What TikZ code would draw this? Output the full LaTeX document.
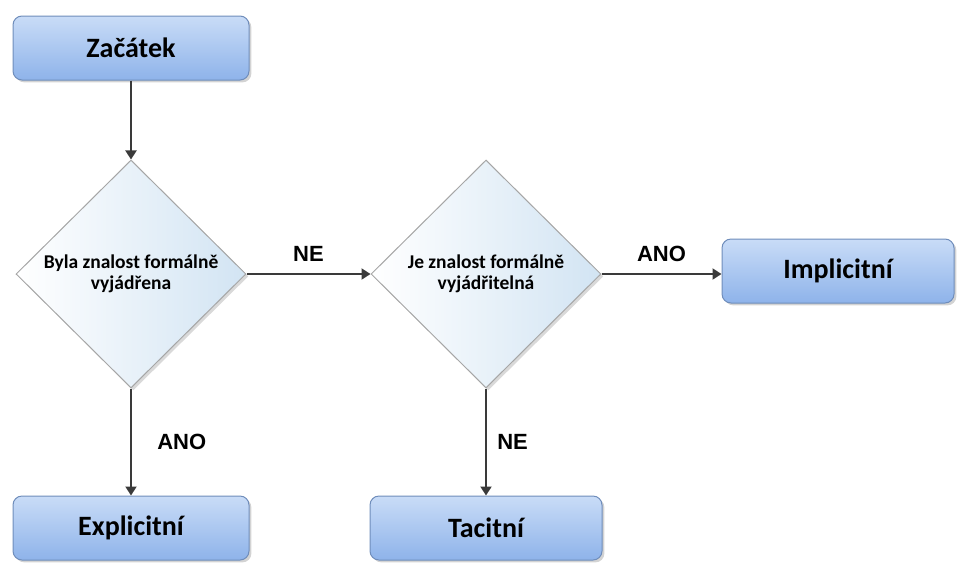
\documentclass[tikz,border=0pt]{standalone}
\usepackage{fontspec}
\setmainfont{Carlito}
\newfontfamily\labelfont{Liberation Sans}
\usetikzlibrary{shapes.geometric,shadows,arrows.meta}
\definecolor{boxtop}{HTML}{C9DCF7}
\definecolor{boxbot}{HTML}{8EB3EA}
\definecolor{boxline}{HTML}{6F8DBB}
\definecolor{diaright}{HTML}{D2E4F3}
\definecolor{arrowgray}{HTML}{3A3A3A}
\tikzset{
  endbox/.style={draw=boxline, line width=1pt, rounded corners=9pt,
    top color=boxtop, bottom color=boxbot, drop shadow={opacity=0.35},
    minimum height=64pt, font=\bfseries\fontsize{28}{30}\selectfont},
  question/.style={diamond, draw=gray!70, line width=1pt, aspect=1,
    left color=white, right color=diaright, drop shadow={opacity=0.3},
    minimum width=230pt, minimum height=228pt, inner sep=0pt, align=center,
    font=\bfseries\fontsize{19.5}{21}\selectfont},
  flow/.style={-{Triangle[length=9pt,width=11pt]}, draw=arrowgray, line width=2pt},
  answer/.style={font=\labelfont\bfseries\fontsize{22}{24}\selectfont}
}
\begin{document}
\begin{tikzpicture}[x=1pt,y=-1pt]
  \useasboundingbox (0,0) rectangle (957,563);
  % boxes
  \node[endbox, minimum width=236pt] (start) at (131,48) {Začátek};
  \node[question] (q1) at (131,274) {Byla znalost formálně\\vyjádřena};
  \node[question] (q2) at (486,274) {Je znalost formálně\\vyjádřitelná};
  \node[endbox, minimum width=232pt] (impl) at (838,271) {Implicitní};
  \node[endbox, minimum width=236pt] (expl) at (131,528) {Explicitní};
  \node[endbox, minimum width=232pt] (tac) at (486,528) {Tacitní};
  % arrows
  \draw[flow] (start) -- (q1);
  \draw[flow] (q1.east) -- (q2.west) node[answer, midway, above=8pt] {NE};
  \draw[flow] (q2.east) -- (q2.east -| impl.west) node[answer, midway, above=8pt] {ANO};
  \draw[flow] (q1.south) -- (expl.north) node[answer, midway, right=22pt] {ANO};
  \draw[flow] (q2.south) -- (tac.north) node[answer, midway, right=7pt] {NE};
\end{tikzpicture}
\end{document}
